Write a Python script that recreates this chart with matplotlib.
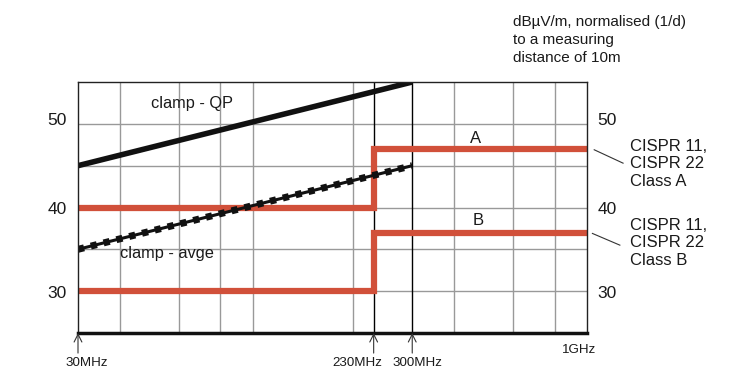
import matplotlib
matplotlib.use("Agg")
import matplotlib.pyplot as plt
import matplotlib.transforms as mtransforms

plt.rcParams['font.family'] = ['Liberation Sans', 'DejaVu Sans']

# limit lines (MHz, dBuV/m)
limit_freq = [30, 230, 230, 1000]
class_a = [40, 40, 47, 47]
class_b = [30, 30, 37, 37]

# clamp curves
clamp_freq = [30, 300]
clamp_qp = [45, 55]
clamp_avge = [35, 45]

grid_freq = [40, 60, 80, 100, 200, 400, 600, 800]
marker_freq = [30, 230, 300]
freq_labels = ['30MHz', '230MHz', '300MHz', '1GHz']
label_x = [31.9, 206, 310, 950]
label_y = [-0.12, -0.12, -0.12, -0.068]
y_ticks = [30, 40, 50]
y_minor = [35, 45]
y_label_shift = [-0.25, -0.2, 0.4]   # the 50 label sits a bit high in the original

red = '#D1503A'
txt = '#1a1a1a'

fig = plt.figure(figsize=(7.34, 3.92), dpi=100)
ax = fig.add_axes([78 / 734, 1 - 333 / 392, (587 - 78) / 734, (333 - 82) / 392])
ax.set_xscale('log')
ax.set_xlim(30, 1000)
ax.set_ylim(25, 55)

ax.set_xticks(grid_freq)
ax.set_xticks([], minor=True)
ax.set_xticklabels([])
ax.set_yticks(y_ticks)
ax.set_yticks(y_minor, minor=True)
ax.set_yticklabels([])
ax.tick_params(axis='both', which='both', length=0)
ax.grid(True, which='both', color='#999999', lw=1)
ax.set_axisbelow(True)

ytrans = mtransforms.blended_transform_factory(ax.transAxes, ax.transData)
for v, dy in zip(y_ticks, y_label_shift):
    ax.text(-0.022, v + dy, str(v), transform=ytrans, fontsize=12.5, color=txt,
            ha='right', va='center', clip_on=False)
    ax.text(1.021, v + dy, str(v), transform=ytrans, fontsize=12.5, color=txt,
            ha='left', va='center', clip_on=False)

for s in ['left', 'top', 'right']:
    ax.spines[s].set_color('#222222')
    ax.spines[s].set_linewidth(1)
ax.spines['bottom'].set_linewidth(2.5)
ax.spines['bottom'].set_color('#111111')

for f in marker_freq[1:]:
    ax.axvline(f, color='black', lw=1)

ax.plot(limit_freq, class_a, color=red, lw=4.5, solid_joinstyle='miter')
ax.plot(limit_freq, class_b, color=red, lw=4.5, solid_joinstyle='miter')

ax.plot(clamp_freq, clamp_qp, color='#111111', lw=4, solid_capstyle='butt')
ax.plot(clamp_freq, clamp_avge, color='#111111', lw=2.2, solid_capstyle='butt')
ax.plot(clamp_freq, clamp_avge, color='#111111', lw=5, dashes=(0.9, 1.0),
        dash_capstyle='butt')

ax.text(49.6, 52.4, 'clamp - QP', fontsize=11.8, color=txt, va='center')
ax.text(40, 34.5, 'clamp - avge', fontsize=11.8, color=txt, va='center')
ax.text(465, 48.3, 'A', fontsize=12, color=txt, ha='center', va='center')
ax.text(474, 38.5, 'B', fontsize=12, color=txt, ha='center', va='center')

ax.text(1348, 45.2, 'CISPR 11,\nCISPR 22\nClass A', fontsize=12, color=txt,
        va='center', linespacing=1.2, clip_on=False)
ax.text(1348, 35.8, 'CISPR 11,\nCISPR 22\nClass B', fontsize=12, color=txt,
        va='center', linespacing=1.2, clip_on=False)
ax.plot([1051, 1282], [46.9, 45.3], color='#333333', lw=0.8, clip_on=False)
ax.plot([1038, 1254], [36.9, 35.5], color='#333333', lw=0.8, clip_on=False)

trans = mtransforms.blended_transform_factory(ax.transData, ax.transAxes)
for f in marker_freq:
    ax.annotate('', xy=(f, 0), xycoords=trans, xytext=(f, -0.08), textcoords=trans,
                arrowprops=dict(arrowstyle='->', lw=0.8, color='#333333',
                                shrinkA=0, shrinkB=0, mutation_scale=14),
                annotation_clip=False)
for lab, x, y in zip(freq_labels, label_x, label_y):
    ax.text(x, y, lab, transform=trans, fontsize=9.6, color=txt, ha='center',
            va='center', clip_on=False)

fig.text(513 / 734, 1 - 40 / 392,
         'dB\u00b5V/m, normalised (1/d)\nto a measuring\ndistance of 10m',
         fontsize=11, color=txt, va='center', linespacing=1.32)

fig.savefig('out.png', dpi=100)
